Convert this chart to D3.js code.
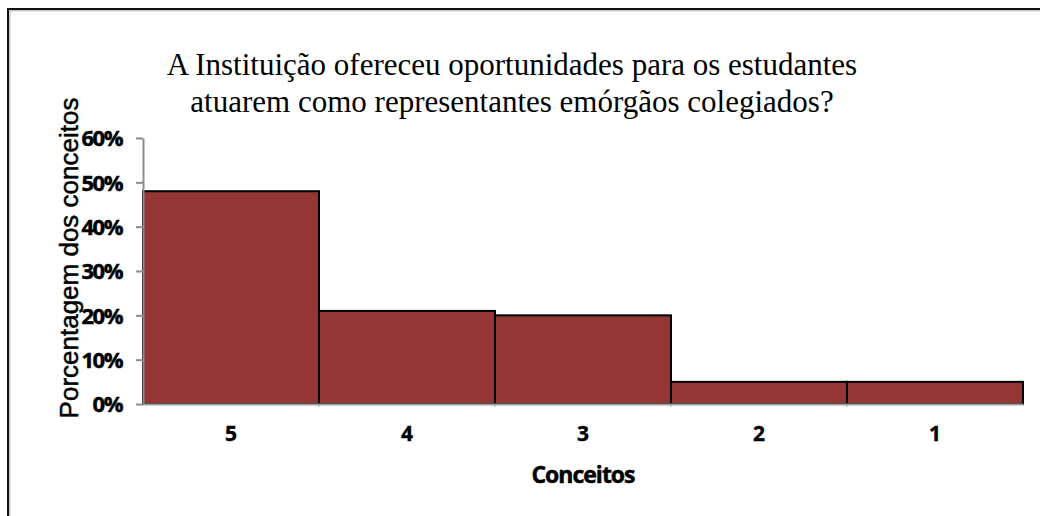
<html>
<head>
<meta charset="utf-8">
<script src="https://d3js.org/d3.v7.min.js"></script>
<style>
 body { margin: 0; background: #fff; }
 svg text { fill: #000; }
</style>
</head>
<body>
<svg id="chart" width="1040" height="516"></svg>
<script>
 // data
 var conceitos = ['5', '4', '3', '2', '1'];
 var percentuais = [0.48, 0.21, 0.20, 0.05, 0.05];
 var yTicks = [0, 0.1, 0.2, 0.3, 0.4, 0.5, 0.6];
 var titleLines = ['A Instituição ofereceu oportunidades para os estudantes',
                   'atuarem como representantes emórgãos colegiados?'];

 var svg = d3.select('#chart');
 var plotLeft = 143, plotRight = 1023, plotTop = 138, plotBottom = 404;

 // frame (only top and left visible)
 svg.append('path')
    .attr('d', 'M8,516 V9 H1040')
    .attr('fill', 'none').attr('stroke', '#c8c8c8').attr('stroke-width', 3)
    .attr('transform', 'translate(1,1)');
 svg.append('path')
    .attr('d', 'M8,516 V9 H1040')
    .attr('fill', 'none').attr('stroke', '#111').attr('stroke-width', 2);

 var x = d3.scaleBand().domain(conceitos).range([plotLeft, plotRight]).padding(0);
 var y = d3.scaleLinear().domain([0, 0.6]).range([plotBottom, plotTop]);

 // title
 svg.append('text')
    .attr('x', 512).attr('y', 75)
    .attr('text-anchor', 'middle')
    .style('font-family', '"Liberation Serif", "Times New Roman", serif')
    .style('font-size', '31px')
    .selectAll('tspan')
    .data(titleLines)
    .enter().append('tspan')
    .attr('x', 512)
    .attr('dy', function(d, i) { return i === 0 ? 0 : 37; })
    .text(function(d) { return d; });

 // bars
 svg.selectAll('rect.bar')
    .data(percentuais)
    .enter().append('rect')
    .attr('class', 'bar')
    .attr('x', function(d, i) { return x(conceitos[i]); })
    .attr('y', function(d) { return y(d); })
    .attr('width', x.bandwidth())
    .attr('height', function(d) { return plotBottom - y(d); })
    .attr('fill', '#943634')
    .attr('stroke', '#000')
    .attr('stroke-width', 2);

 // y axis
 var yAxis = svg.append('g')
    .attr('transform', 'translate(' + plotLeft + ',0)')
    .call(d3.axisLeft(y).tickValues(yTicks).tickFormat(d3.format('.0%')).tickSize(7).tickSizeOuter(0).tickPadding(14));
 yAxis.select('.domain').attr('stroke', '#8c8c8c').attr('stroke-width', 2);
 yAxis.selectAll('.tick line').attr('stroke', '#8c8c8c').attr('stroke-width', 2);
 yAxis.selectAll('.tick text')
    .style('font-family', '"Open Sans", sans-serif')
    .style('font-weight', 'bold')
    .style('font-size', '22px')
    .style('letter-spacing', '-1.5px')
    .style('stroke', '#000').style('stroke-width', 0.5)
    .attr('dy', '0.36em');

 // x axis
 var xAxis = svg.append('g')
    .attr('transform', 'translate(0,' + plotBottom + ')')
    .call(d3.axisBottom(x).tickSize(0).tickSizeOuter(0).tickPadding(22));
 xAxis.select('.domain').attr('stroke', '#a0a0a0').attr('stroke-width', 2);
 xAxis.selectAll('.tick text')
    .style('font-family', '"Open Sans", sans-serif')
    .style('font-weight', 'bold')
    .style('font-size', '21px')
    .style('stroke', '#000').style('stroke-width', 0.4);

 // small marks between the categories, under the axis
 svg.selectAll('line.sep')
    .data(conceitos.slice(1))
    .enter().append('line')
    .attr('class', 'sep')
    .attr('x1', function(d) { return x(d); })
    .attr('x2', function(d) { return x(d); })
    .attr('y1', plotBottom).attr('y2', plotBottom + 3)
    .attr('stroke', '#a0a0a0').attr('stroke-width', 1);

 // axis titles
 svg.append('text')
    .attr('x', (plotLeft + plotRight) / 2).attr('y', 483)
    .attr('text-anchor', 'middle')
    .style('font-family', '"Open Sans", sans-serif')
    .style('font-weight', 'bold')
    .style('font-size', '23px')
    .style('letter-spacing', '-1px')
    .style('stroke', '#000').style('stroke-width', 0.5)
    .text('Conceitos');

 svg.append('text')
    .attr('transform', 'translate(78,' + 258 + ') rotate(-90)')
    .attr('text-anchor', 'middle')
    .style('font-family', '"Liberation Sans", Arial, sans-serif')
    .style('font-size', '26px')
    .style('stroke', '#000').style('stroke-width', 0.5)
    .text('Porcentagem dos conceitos');
</script>
</body>
</html>
